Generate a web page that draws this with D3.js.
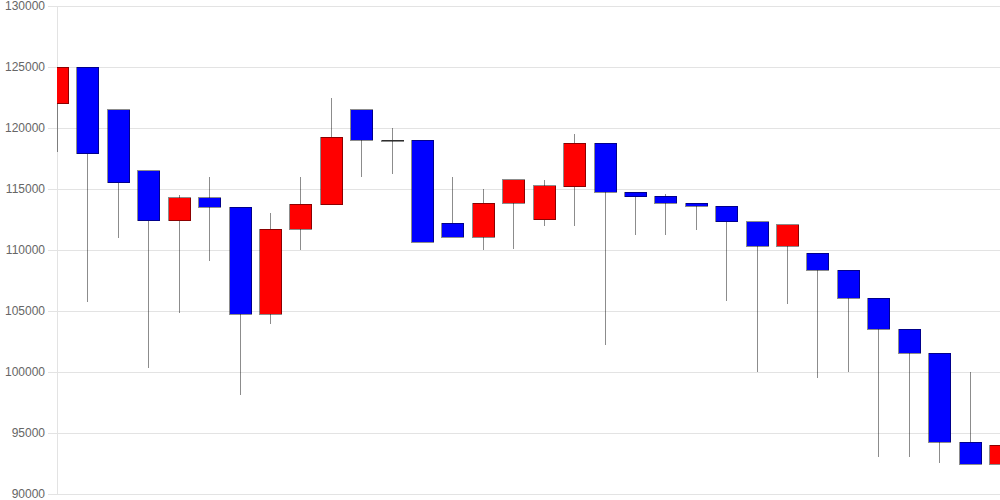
<!DOCTYPE html>
<html>
<meta charset="utf-8">
<title>Candlestick</title>
<style>
body {
  margin: 0;
  font-family: "Liberation Sans", Arial, sans-serif;
  background: #fff;
}

.grid line {
  stroke: #e3e3e3;
  shape-rendering: crispEdges;
}

.axis text {
  fill: #666;
  font-size: 12px;
}

.wick {
  stroke: #000;
  stroke-opacity: .45;
  shape-rendering: crispEdges;
}

.body {
  stroke: #000;
  stroke-opacity: .45;
  shape-rendering: crispEdges;
}
</style>
<body>
<div id="chart"></div>
<script src="https://d3js.org/d3.v7.min.js"></script>
<script>

var open  = [122000, 125000, 121500, 116500, 112400, 114300, 113500, 104750, 111700, 113700, 121500, 119000, 119000, 112200, 111050, 113850,
             112500, 115200, 118750, 114750, 114400, 113850, 113600, 112300, 110300, 109750, 108350, 106050, 103500, 101550, 94250, 92450];
var close = [125000, 117900, 115500, 112400, 114300, 113500, 104750, 111700, 113750, 119250, 119000, 119000, 110650, 111050, 113850, 115750,
             115250, 118750, 114750, 114350, 113850, 113600, 112300, 110300, 112050, 108350, 106050, 103500, 101550, 94250, 92450, 94000];
var high  = [125000, 125000, 121500, 116500, 114500, 116000, 113500, 113000, 116000, 122500, 121500, 120000, 119000, 116000, 115000, 115750,
             115750, 119500, 118750, 114750, 114600, 113850, 113600, 112300, 112050, 109750, 108350, 106050, 103500, 101550, 100000, 95750];
var low   = [118000, 105700, 111000, 100300, 104800, 109100, 98100, 103900, 110000, 113700, 116000, 116200, 110650, 111050, 110000, 110100,
             112000, 112000, 102200, 111200, 111200, 111600, 105800, 100000, 105600, 99500, 100000, 93000, 93000, 92550, 92450, 91800];

var yTicks = [90000, 95000, 100000, 105000, 110000, 115000, 120000, 125000, 130000];

var width = 1000,
  height = 500,
  margin = { top: 6, right: 0, bottom: 6, left: 57 };

var svg = d3.select("#chart").append("svg")
  .attr("width", width)
  .attr("height", height);

var x = d3.scalePoint()
  .domain(d3.range(open.length))
  .range([margin.left, width - margin.right]);

var y = d3.scaleLinear()
  .domain([90000, 130000])
  .range([height - margin.bottom, margin.top]);

// grid + labels
var axis = svg.append("g")
  .attr("class", "axis grid")
  .attr("transform", "translate(" + margin.left + ",0)")
  .call(d3.axisLeft(y)
    .tickValues(yTicks)
    .tickFormat(d3.format("d"))
    .tickSize(-(width - margin.left))
    .tickPadding(12));

axis.select(".domain").remove();
axis.selectAll(".tick line")
  .attr("x1", -9)
  .attr("x2", width - margin.left);

svg.append("line")
  .attr("x1", margin.left + 0.5)
  .attr("x2", margin.left + 0.5)
  .attr("y1", margin.top)
  .attr("y2", height - margin.bottom)
  .style("stroke", "#e3e3e3");

svg.append("clipPath")
  .attr("id", "clip")
  .append("rect")
  .attr("x", margin.left)
  .attr("y", 0)
  .attr("width", width - margin.left)
  .attr("height", height);

var data = open.map(function(o, i) {
  return { i: i, open: o, close: close[i], high: high[i], low: low[i] };
});

var bodyWidth = 22;

var candle = svg.append("g")
  .attr("clip-path", "url(#clip)")
  .selectAll("g")
  .data(data)
  .enter().append("g");

candle.append("line")
  .attr("class", "wick")
  .attr("x1", function(d) { return Math.round(x(d.i)) + 0.5; })
  .attr("x2", function(d) { return Math.round(x(d.i)) + 0.5; })
  .attr("y1", function(d) { return y(d.high); })
  .attr("y2", function(d) { return y(d.low); });

candle.append("rect")
  .attr("class", "body")
  .attr("x", function(d) { return Math.round(x(d.i) - bodyWidth / 2) + 0.5; })
  .attr("width", bodyWidth)
  .attr("y", function(d) { return y(Math.max(d.open, d.close)); })
  .attr("height", function(d) { return Math.max(1, Math.abs(y(d.open) - y(d.close))); })
  .style("fill", function(d) {
    if (d.open === d.close) return "#555";
    return d.close > d.open ? "#ff0000" : "#0000ff";
  });

</script>
</body>
</html>
